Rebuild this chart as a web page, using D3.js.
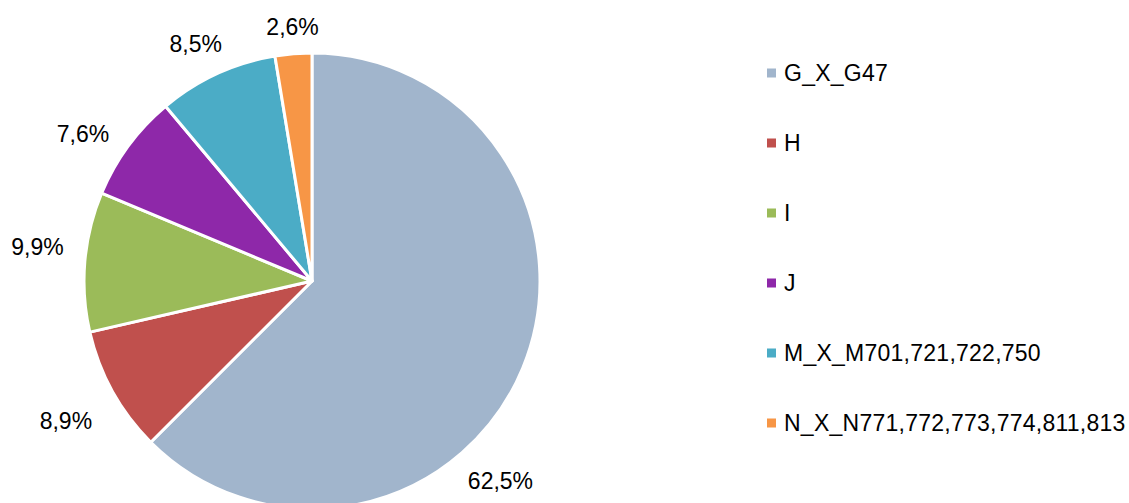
<!DOCTYPE html>
<html>
<head>
<meta charset="utf-8">
<script src="https://cdn.jsdelivr.net/npm/d3@7"></script>
<style>
  html, body { margin: 0; padding: 0; background: #fff; }
  svg { display: block; }
  text { font-family: "Liberation Sans", Arial, sans-serif; fill: #000; }
</style>
</head>
<body>
<svg id="chart" width="1129" height="503"></svg>
<script>
// ---- data ----
const categories = ["G_X_G47", "H", "I", "J", "M_X_M701,721,722,750", "N_X_N771,772,773,774,811,813"];
const shares = [62.5, 8.9, 9.9, 7.6, 8.5, 2.6];
const colors = ["#A1B5CC", "#C0504D", "#9BBB59", "#8E28A9", "#4BACC6", "#F79646"];
const labelTexts = ["62,5%", "8,9%", "9,9%", "7,6%", "8,5%", "2,6%"];

// ---- layout ----
const W = 1129, H = 503;
const cx = 312, cy = 281, R = 228;
const fontSize = 23;
// best-fit label placement: angle shift from slice middle (deg) and radial distance of label centre
const labelAngleShift = [24.2, -0.6, 2.2, -3.7, -1.5, 0.3];
const labelRadius = [274.8, 283, 276.6, 272.1, 263.6, 254.7];

const svg = d3.select("#chart");
const data = categories.map((c, i) => ({ cat: c, value: shares[i], color: colors[i], label: labelTexts[i], idx: i }));

const pie = d3.pie().sort(null).value(d => d.value);
const arcs = pie(data);
const arc = d3.arc().innerRadius(0).outerRadius(R);

const g = svg.append("g").attr("transform", `translate(${cx},${cy})`);
g.selectAll("path.slice")
  .data(arcs)
  .join("path")
  .attr("class", "slice")
  .attr("d", arc)
  .attr("fill", d => d.data.color)
  .attr("stroke", "#fff")
  .attr("stroke-width", 3)
  .attr("stroke-linejoin", "round");

// labels
g.selectAll("text.lbl")
  .data(arcs)
  .join("text")
  .attr("class", "lbl")
  .attr("font-size", fontSize)
  .attr("text-anchor", "middle")
  .attr("dominant-baseline", "central")
  .text(d => d.data.label)
  .each(function(d) {
    const i = d.data.idx;
    const a = (d.startAngle + d.endAngle) / 2 + labelAngleShift[i] * Math.PI / 180;
    const r = labelRadius[i];
    d3.select(this)
      .attr("x", Math.sin(a) * r)
      .attr("y", -Math.cos(a) * r);
  });

// legend
const legend = svg.append("g").attr("transform", "translate(767,73)");
const rowH = 70;
const items = legend.selectAll("g.item")
  .data(data)
  .join("g")
  .attr("class", "item")
  .attr("transform", (d, i) => `translate(0,${i * rowH})`);
items.append("rect")
  .attr("x", 0).attr("y", -4.5)
  .attr("width", 9).attr("height", 9)
  .attr("fill", d => d.color);
items.append("text")
  .attr("x", 17)
  .attr("y", 0)
  .attr("dominant-baseline", "central")
  .attr("font-size", fontSize)
  .attr("letter-spacing", 0.25)
  .text(d => d.cat);
</script>
</body>
</html>
